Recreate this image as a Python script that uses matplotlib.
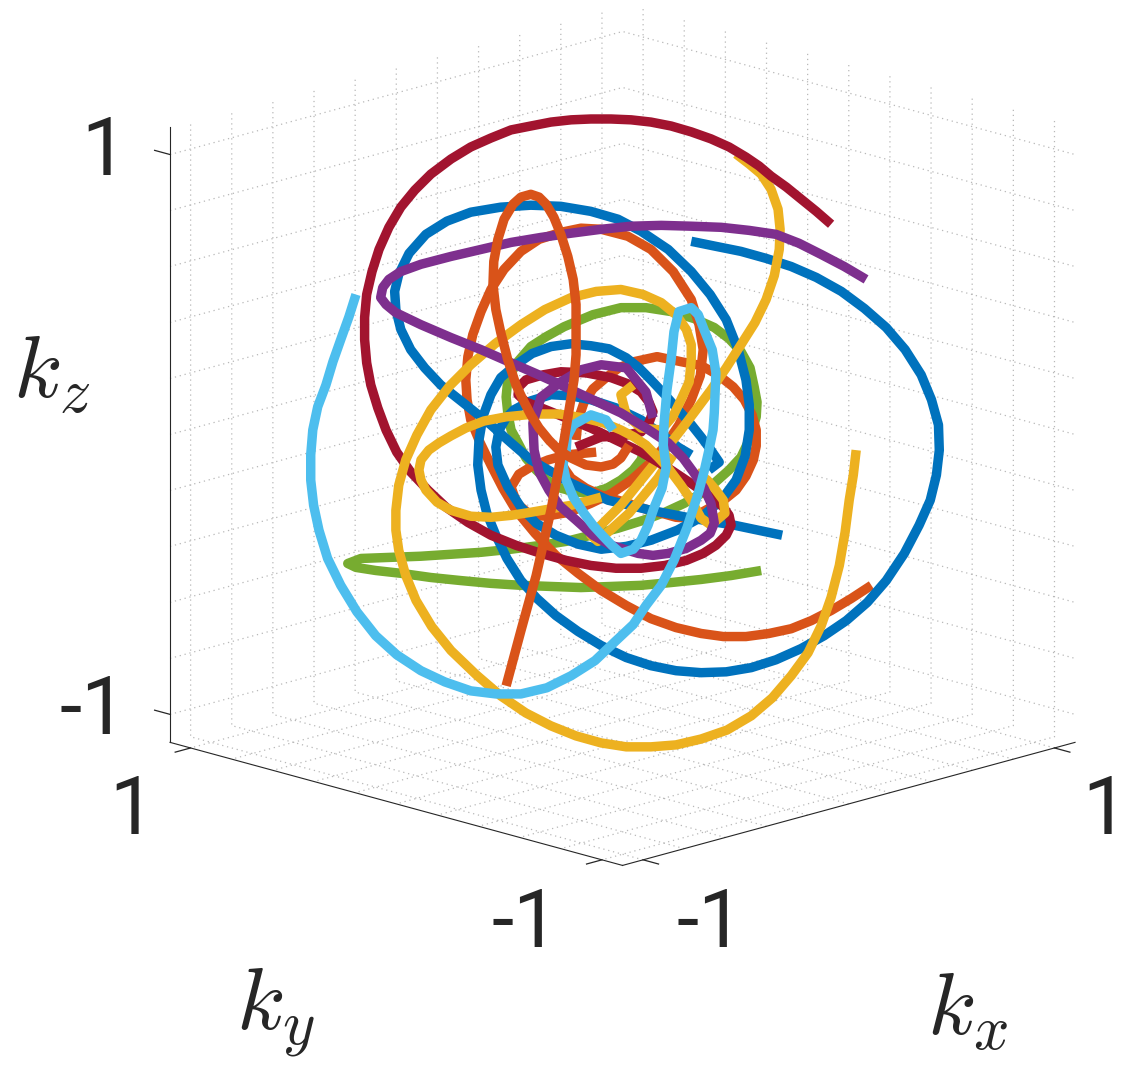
import numpy as np
import matplotlib
matplotlib.use("Agg")
import matplotlib.pyplot as plt

plt.rcParams.update({
    "mathtext.fontset": "cm",
    "grid.color": "#b8b8b8",
    "grid.linewidth": 0.9,
    "grid.linestyle": (0, (1, 3)),
    "axes.linewidth": 0.8,
    "axes.edgecolor": "#262626",
})

# Curve values. Only kx-ky and kz are visible in one
# projection, so each curve is stored as kx, kz and ky is taken as -kx.
red_kx = [.507,.471,.434,.398,.361,.332,.300,.259,.215,.167,.118,.069,.021,-.028,-.077,-.125,-.174,-.223,-.271,-.320,-.369,-.417,-.466,-.505,-.539,-.568,-.592,-.609,-.622,-.627,-.627,-.622,-.612,-.595,-.575,-.549,-.515,-.473,-.429,-.376,-.320,-.259,-.198,-.137,-.077,-.016,.045,.103,.155,.196,.227,.252,.264,.259,.245,.220,.191,.118,.082,.045,-.016,-.077,-.137,-.198,-.235,-.254,-.252,-.235,-.193,-.150,-.089,-.028,.013,.045,.064,.074,.064,.045,.001,-.052,-.113]
red_kz = [.751,.797,.841,.884,.923,.959,.991,1.027,1.056,1.081,1.102,1.116,1.124,1.127,1.127,1.124,1.116,1.102,1.088,1.059,1.027,.984,.930,.873,.812,.740,.661,.582,.500,.418,.339,.256,.177,.095,.016,-.063,-.134,-.199,-.260,-.314,-.360,-.396,-.425,-.450,-.468,-.478,-.478,-.468,-.450,-.425,-.396,-.360,-.324,-.289,-.260,-.228,-.199,-.127,-.095,-.063,-.020,.023,.059,.095,.116,.142,.170,.195,.213,.224,.220,.203,.181,.152,.116,.081,.041,.009,-.005,-.009,-.045]

blue1_kx = [.167,.227,.288,.349,.410,.471,.532,.588,.641,.687,.726,.751,.768,.770,.763,.748,.721,.685,.641,.595,.544,.490,.434,.373,.313,.252,.191,.130,.069,.009,-.052,-.108,-.162,-.208,-.247,-.281,-.308,-.330,-.344,-.352,-.349,-.339,-.320,-.296,-.259,-.220,-.174,-.125,-.077,-.033,.009,.040,.069,.103,.135,.164,.191,.215,.235,.210]
blue1_kz = [.690,.672,.654,.629,.600,.561,.511,.450,.382,.303,.213,.124,.034,-.056,-.145,-.235,-.324,-.425,-.522,-.600,-.665,-.719,-.765,-.805,-.833,-.848,-.851,-.844,-.826,-.797,-.754,-.704,-.647,-.586,-.522,-.443,-.360,-.281,-.199,-.109,-.020,.066,.142,.203,.249,.289,.314,.324,.317,.306,.274,.238,.195,.142,.088,.041,-.009,-.056,-.099,-.127]

blue2_kx = [.388,.271,.167,.069,-.035,-.125,-.223,-.271,-.320,-.381,-.442,-.481,-.515,-.539,-.551,-.554,-.544,-.519,-.478,-.427,-.369,-.296,-.223,-.150,-.077,-.011,.045,.111,.167,.213,.252,.281,.300,.308,.308,.298,.276,.240,.191,.133,.069,.009,-.052,-.108,-.162,-.210,-.247,-.279,-.303,-.308,-.300,-.283,-.264,-.223,-.174,-.125,-.077,-.016,.045,.094,.135,.167]
blue2_kz = [-.360,-.324,-.299,-.271,-.235,-.174,-.091,-.030,.034,.106,.177,.238,.303,.375,.446,.511,.572,.647,.715,.762,.794,.812,.819,.815,.797,.769,.726,.661,.582,.500,.410,.303,.195,.106,.016,-.077,-.163,-.235,-.296,-.342,-.378,-.400,-.410,-.392,-.360,-.317,-.260,-.188,-.109,-.045,.016,.059,.088,.120,.142,.138,.124,.095,.052,.002,-.045,-.073]

orange1_kx = [-.283,-.247,-.210,-.174,-.142,-.130,-.118,-.113,-.113,-.113,-.120,-.133,-.150,-.167,-.186,-.203,-.223,-.247,-.266,-.288,-.303,-.313,-.315,-.308,-.296,-.279,-.259,-.242,-.223,-.203,-.179,-.155,-.125,-.089,-.052,-.023,-.004,.016]
orange1_kz = [-.898,-.701,-.504,-.271,-.020,.088,.195,.285,.375,.464,.554,.636,.715,.776,.823,.848,.858,.848,.823,.769,.697,.618,.536,.446,.364,.267,.177,.124,.070,.023,-.020,-.056,-.084,-.109,-.116,-.106,-.084,-.038]

orange2_kx = [.605,.556,.507,.459,.410,.356,.300,.245,.191,.130,.069,.009,-.052,-.108,-.162,-.213,-.259,-.291,-.320,-.347,-.369,-.378,-.381,-.376,-.364,-.344,-.320,-.288,-.247,-.203,-.150,-.101,-.052,.013,.069,.123,.167,.186,.196,.189,.167,.137,.101,.064,.021,-.026,-.077,-.130,-.186,-.223,-.257,-.271,-.252,-.223,-.181,-.137,-.064]
orange2_kz = [-.539,-.586,-.629,-.665,-.694,-.711,-.722,-.722,-.711,-.690,-.658,-.611,-.557,-.496,-.432,-.353,-.271,-.192,-.109,-.027,.052,.124,.195,.278,.357,.439,.518,.590,.654,.697,.722,.737,.733,.708,.661,.582,.482,.392,.303,.210,.124,.034,-.045,-.106,-.163,-.210,-.246,-.278,-.292,-.289,-.246,-.188,-.142,-.116,-.091,-.073,-.063]

orange3_kx = [-.113,-.108,-.094,-.072,-.040,-.009,.028,.084,.142,.191,.232,.269,.296,.315,.325,.325,.318,.300,.276,.249,.215,.167,.130,.094,.057,.028,-.011,-.052,-.089,-.125,-.142,-.150]
orange3_kz = [-.020,.052,.113,.163,.203,.238,.260,.278,.260,.246,.213,.170,.124,.070,.016,-.041,-.091,-.149,-.199,-.231,-.260,-.299,-.296,-.281,-.267,-.253,-.235,-.217,-.192,-.156,-.120,-.084]

yellow1_kx = [.568,.561,.551,.541,.527,.507,.483,.451,.410,.364,.313,.254,.191,.130,.069,.009,-.052,-.113,-.174,-.235,-.296,-.356,-.417,-.464,-.502,-.527,-.544,-.551,-.551,-.544,-.527,-.500,-.466,-.420,-.369,-.310,-.247,-.189,-.125,-.064,-.004,.050,.094,.130,.155,.167,.167,.162,.142,.123,.094,.045,.009,-.004,.026]
yellow1_kz = [-.056,-.145,-.235,-.349,-.468,-.582,-.683,-.780,-.862,-.941,-1.005,-1.056,-1.088,-1.109,-1.116,-1.116,-1.102,-1.077,-1.041,-.995,-.934,-.858,-.772,-.686,-.593,-.504,-.414,-.342,-.271,-.181,-.091,-.002,.088,.174,.249,.324,.392,.446,.489,.511,.518,.500,.471,.428,.375,.321,.267,.188,.124,.066,.016,.023,.070,.142,.177]

yellow2_kx = [.276,.308,.337,.361,.378,.383,.381,.369,.349,.322,.288,.252,.215,.179,.142,.069,-.004,-.077,-.060,.016,.086,.123]
yellow2_kz = [1.002,.966,.930,.876,.805,.733,.661,.568,.482,.400,.321,.238,.159,.088,.016,-.120,-.253,-.360,-.382,-.281,-.156,-.073]

yellow3_kx = [-.052,-.125,-.223,-.271,-.320,-.369,-.417,-.451,-.478,-.490,-.495,-.490,-.471,-.446,-.417,-.381,-.337,-.283,-.215,-.155,-.094,-.045,-.004,.028,.057,.086,.111,.142,.167,.191,.215,.249,.245,.227,.206,.179]
yellow3_kz = [-.224,-.253,-.278,-.289,-.296,-.292,-.271,-.242,-.199,-.163,-.127,-.091,-.056,-.030,-.005,.023,.048,.063,.073,.073,.059,.041,.016,-.009,-.038,-.081,-.120,-.181,-.235,-.299,-.324,-.281,-.235,-.199,-.163,-.134]

purple_kx = [.592,.539,.483,.429,.373,.308,.240,.167,.094,.021,-.052,-.125,-.198,-.271,-.344,-.417,-.490,-.539,-.568,-.583,-.588,-.575,-.551,-.490,-.417,-.344,-.271,-.210,-.150,-.077,-.004,.057,.111,.147,.174,.198,.215,.223,.213,.191,.155,.111,.074,.038,-.028,-.072,-.113,-.152,-.179,-.203,-.215,-.218,-.198,-.150,-.101,-.052,.009,.057,.074]
purple_kz = [.554,.600,.643,.683,.715,.729,.740,.744,.747,.744,.733,.719,.704,.686,.661,.636,.608,.582,.554,.525,.489,.464,.435,.392,.346,.303,.256,.217,.177,.127,.077,.023,-.030,-.084,-.138,-.192,-.246,-.317,-.353,-.378,-.407,-.425,-.432,-.425,-.396,-.360,-.306,-.256,-.199,-.134,-.056,.041,.134,.188,.231,.249,.238,.152,.059]

green_kx = [.337,.264,.191,.118,.045,-.028,-.101,-.174,-.247,-.320,-.393,-.466,-.539,-.600,-.648,-.668,-.636,-.563,-.490,-.417,-.344,-.271,-.198,-.137,-.077,-.011,.052,.103,.150,.189,.223,.259,.288,.310,.325,.327,.320,.310,.288,.259,.223,.174,.118,.057,-.004,-.072,-.142,-.186,-.223,-.257,-.279,-.283,-.279,-.271,-.254,-.235,-.210,-.184,-.150,-.113,-.077,-.038,-.004,.026,.045,.057]
green_kz = [-.486,-.504,-.518,-.529,-.539,-.543,-.547,-.543,-.539,-.532,-.522,-.511,-.496,-.486,-.475,-.461,-.443,-.439,-.435,-.428,-.421,-.410,-.396,-.382,-.360,-.335,-.306,-.278,-.246,-.213,-.174,-.127,-.081,-.013,.063,.116,.170,.238,.296,.342,.382,.414,.439,.453,.453,.428,.385,.349,.314,.256,.195,.134,.077,.016,-.030,-.084,-.127,-.163,-.192,-.206,-.210,-.192,-.163,-.127,-.091,-.038]

cyan_kx = [-.648,-.665,-.685,-.704,-.721,-.741,-.753,-.758,-.758,-.751,-.738,-.717,-.685,-.646,-.600,-.549,-.490,-.432,-.369,-.308,-.247,-.184,-.125,-.067,-.016,.026,.057,.094,.125,.157,.184,.198,.210,.220,.223,.227,.218,.198,.184,.167,.137,.125,.118,.108,.101,.099,.106,.096,.077,.062,.045,.026,-.004,-.026,-.045,-.072,-.094,-.120,-.137,-.145,-.137,-.135,-.120,-.077,-.040,-.023]
cyan_kz = [.500,.421,.339,.260,.177,.099,.016,-.073,-.163,-.253,-.342,-.443,-.539,-.633,-.719,-.787,-.844,-.884,-.916,-.927,-.927,-.905,-.862,-.808,-.737,-.679,-.611,-.539,-.450,-.332,-.210,-.134,-.056,.016,.077,.220,.303,.375,.428,.453,.439,.367,.267,.159,.041,-.038,-.116,-.192,-.260,-.324,-.378,-.410,-.425,-.396,-.367,-.324,-.281,-.224,-.163,-.109,-.056,-.009,.034,.070,.052,.016]

# (kx, kz, colour), bottom to top
series = [
    (green_kx, green_kz, "#77AC30"),
    (orange2_kx, orange2_kz, "#D95319"),
    (orange3_kx, orange3_kz, "#D95319"),
    (blue2_kx, blue2_kz, "#0072BD"),
    (blue1_kx, blue1_kz, "#0072BD"),
    (yellow2_kx, yellow2_kz, "#EDB120"),
    (red_kx, red_kz, "#A2142F"),
    (yellow1_kx, yellow1_kz, "#EDB120"),
    (yellow3_kx, yellow3_kz, "#EDB120"),
    (purple_kx, purple_kz, "#7E2F8E"),
    (cyan_kx, cyan_kz, "#4DBEEE"),
    (orange1_kx, orange1_kz, "#D95319"),
]

grid_ticks = [-1, -.8, -.6, -.4, -.2, 0, .2, .4, .6, .8, 1]
labelled_ticks = [-1, 1]
axis_limit = 1.1
tick_len = 0.075

W, H = 1133, 1069
fig = plt.figure(figsize=(W / 100, H / 100), dpi=100, facecolor="white")
ax = fig.add_axes([70 / W, 82 / H, 1076 / W, 1076 / H], projection="3d", computed_zorder=False)
ax.set_proj_type("ortho")
ax.set_box_aspect((1, 1, 1))
ax.view_init(elev=15.78, azim=-135)
ax.patch.set_alpha(0)

for i, (kx, kz, colour) in enumerate(series):
    kx = np.array(kx)
    ax.plot(kx, -kx, np.array(kz), color=colour, lw=6.8, zorder=10 + i,
            solid_capstyle="butt", solid_joinstyle="round")

# tick marks only at the labelled values; the grid runs on a finer step
L = axis_limit
for v in labelled_ticks:
    kw = dict(color="#262626", lw=0.9, zorder=1)
    ax.plot([v, v], [-L, -L - tick_len], [-L, -L], **kw)
    ax.plot([-L, -L - tick_len], [v, v], [-L, -L], **kw)
    ax.plot([-L, -L], [L, L + tick_len], [v, v], **kw)

ax.set_xlim(-L, L, view_margin=0)
ax.set_ylim(-L, L, view_margin=0)
ax.set_zlim(-L, L, view_margin=0)

for axis in (ax.xaxis, ax.yaxis, ax.zaxis):
    axis.set_ticks(grid_ticks)
    axis.set_ticklabels([""] * len(grid_ticks))
    axis.set_pane_color((1, 1, 1, 0))
    axis.pane.set_edgecolor((1, 1, 1, 0))
    axis._axinfo["tick"]["inward_factor"] = 0
    axis._axinfo["tick"]["outward_factor"] = 0
    axis._axinfo["axisline"]["color"] = "#262626"
    axis._axinfo["axisline"]["linewidth"] = 0.9
ax.grid(True)


def label(x, y, text, ha="center", size=58, **kw):
    fig.text(x / W, 1 - y / H, text, ha=ha, va="center", fontsize=size, color="#262626", **kw)


sans = {"family": "Roboto"}
label(127, 153, "1", ha="right", **sans)
label(127, 712, "-1", ha="right", **sans)
label(132, 812, "1", **sans)
label(525, 925, "-1", **sans)
label(710, 925, "-1", **sans)
label(1105, 812, "1", **sans)
label(52, 373, "$k_z$", size=64)
label(275, 1012, "$k_y$", size=64)
label(967, 1010, "$k_x$", size=64)

fig.savefig("out.png", dpi=100)
